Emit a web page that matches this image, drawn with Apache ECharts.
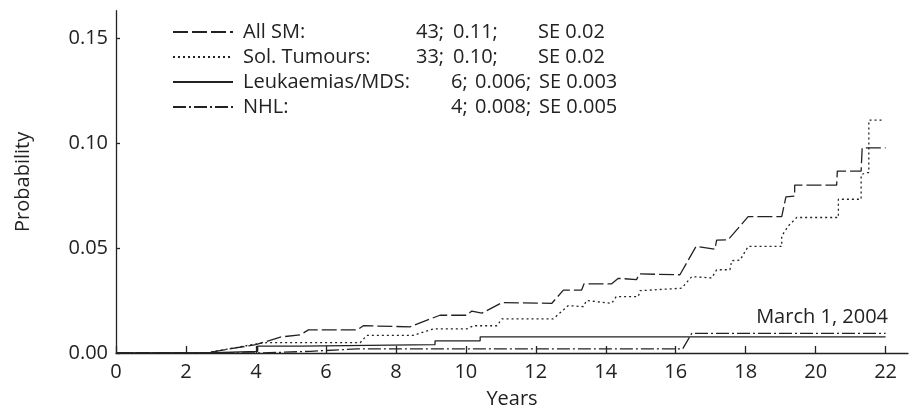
<!DOCTYPE html>
<html><head><meta charset="utf-8">
<script src="https://cdn.jsdelivr.net/npm/echarts@6/dist/echarts.min.js"></script>
<style>html,body{margin:0;padding:0;background:#fff}#c{width:911px;height:414px}</style>
</head><body><div id="c"></div>
<script>
// ---- data ----
const seriesNames = ['All SM:', 'Sol. Tumours:', 'Leukaemias/MDS:', 'NHL:'];
const eventCounts = ['43;', '33;', '6;', '4;'];
const cumProb = ['0.11;', '0.10;', '0.006;', '0.008;'];
const stdErr = ['SE 0.02', 'SE 0.02', 'SE 0.003', 'SE 0.005'];
const xTicks = [0, 2, 4, 6, 8, 10, 12, 14, 16, 18, 20, 22];
const yTicks = [0, 0.05, 0.10, 0.15];
const annotation = 'March 1, 2004';

const allSmYears = [0, 2.55, 4.0, 4.7, 5.27, 5.5, 6.9, 7.07, 8.4, 9.26, 10.03, 10.17, 10.46, 11.03, 12.46, 12.79, 13.31, 13.38, 14.17, 14.36, 14.88, 14.96, 16.12, 16.58, 17.12, 17.17, 17.5, 18.07, 19.03, 19.15, 19.4, 19.4, 20.6, 20.62, 21.3, 21.33, 22.0];
const allSmProb  = [0, 0, 0.004, 0.0076, 0.0087, 0.011, 0.011, 0.013, 0.0125, 0.018, 0.018, 0.020, 0.019, 0.024, 0.0237, 0.030, 0.030, 0.033, 0.033, 0.0356, 0.035, 0.0377, 0.0373, 0.0508, 0.0495, 0.0538, 0.054, 0.065, 0.065, 0.0744, 0.0748, 0.080, 0.080, 0.0867, 0.0867, 0.0978, 0.0978];

const solYears = [0, 2.56, 4.03, 4.3, 6.98, 7.17, 8.5, 9.07, 10.03, 10.22, 10.89, 11.03, 12.5, 12.93, 13.36, 13.45, 14.17, 14.3, 14.93, 14.98, 16.17, 16.46, 17.03, 17.17, 17.55, 17.6, 17.84, 18.07, 19.03, 19.03, 19.22, 19.46, 20.65, 20.65, 21.3, 21.3, 21.45, 21.52, 21.52, 21.9];
const solProb  = [0, 0, 0.0044, 0.0049, 0.0049, 0.0084, 0.0084, 0.0115, 0.0115, 0.013, 0.013, 0.0163, 0.0163, 0.0226, 0.0221, 0.025, 0.0237, 0.0269, 0.0269, 0.0297, 0.0309, 0.0364, 0.0358, 0.0397, 0.0397, 0.044, 0.0443, 0.0508, 0.0508, 0.0558, 0.0606, 0.0646, 0.0646, 0.0733, 0.0733, 0.085, 0.086, 0.086, 0.111, 0.111];

const leukYears = [0, 2.55, 2.55, 4.05, 4.05, 5.31, 5.31, 9.12, 9.12, 10.41, 10.41, 22.0];
const leukProb  = [0, 0, 0.0008, 0.0008, 0.0033, 0.0033, 0.004, 0.004, 0.0058, 0.0058, 0.0077, 0.0077];

const nhlYears = [0, 4.1, 5.56, 6.9, 16.2, 16.46, 22.0];
const nhlProb  = [0, 0, 0.0008, 0.002, 0.002, 0.0094, 0.0094];

// ---- layout / style ----
const FONT = '"Open Sans", "Noto Sans", sans-serif';
const INK = '#222';
const dashes = [[15, 4], [2, 3], 'solid', [13, 3, 2, 3]];
const nameW  = [173, 173, 208, 208];
const countW = [37, 37, 24, 24];
const probW  = [85, 85, 64, 64];

const zip = (xs, ys) => xs.map((x, i) => [x, ys[i]]);
const seriesData = [zip(allSmYears, allSmProb), zip(solYears, solProb), zip(leukYears, leukProb), zip(nhlYears, nhlProb)];

const rich = { sp: { width: 5 } };
seriesNames.forEach((n, i) => {
  rich['n' + i] = { width: nameW[i], fontSize: 20, fontFamily: FONT, color: INK };
  rich['c' + i] = { width: countW[i], fontSize: 20, fontFamily: FONT, color: INK };
  rich['p' + i] = { width: probW[i], fontSize: 20, fontFamily: FONT, color: INK };
  rich['s' + i] = { fontSize: 20, fontFamily: FONT, color: INK };
});

const chart = echarts.init(document.getElementById('c'));
chart.setOption({
  animation: false,
  backgroundColor: '#fff',
  grid: { left: 116, right: 3, top: 10.7, bottom: 59.7, containLabel: false },
  legend: {
    orient: 'vertical', left: 172, top: 19.5, padding: 0, itemGap: 0,
    itemWidth: 60, itemHeight: 14,
    data: seriesNames,
    itemStyle: { opacity: 0, borderWidth: 0 },
    lineStyle: { opacity: 1 },
    textStyle: { fontSize: 20, fontFamily: FONT, color: INK, lineHeight: 25, rich: rich },
    formatter: function (name) {
      const i = seriesNames.indexOf(name);
      return '{sp| }{n' + i + '|' + name + '}{c' + i + '|' + eventCounts[i] + '}{p' + i + '|' + cumProb[i] + '}{s' + i + '|' + stdErr[i] + '}';
    }
  },
  xAxis: {
    type: 'value', min: 0, max: 22.64,
    name: 'Years', nameLocation: 'middle', nameGap: 36,
    nameTextStyle: { fontSize: 20, fontFamily: FONT, color: INK },
    axisLine: { lineStyle: { color: INK, width: 1.3 } },
    axisTick: { inside: true, length: 7, lineStyle: { color: INK, width: 1.3 }, customValues: xTicks },
    axisLabel: { fontSize: 20, fontFamily: FONT, color: INK, margin: 9, customValues: xTicks },
    splitLine: { show: false }
  },
  yAxis: {
    type: 'value', min: 0, max: 0.1632,
    name: 'Probability', nameLocation: 'middle', nameGap: 83, nameRotate: 90,
    nameTextStyle: { fontSize: 20, fontFamily: FONT, color: INK },
    axisLine: { show: true, lineStyle: { color: INK, width: 1.3 } },
    axisTick: { show: true, inside: true, length: 4, lineStyle: { color: INK, width: 1.3 }, customValues: yTicks },
    axisLabel: { fontSize: 20, fontFamily: FONT, color: INK, margin: 8, customValues: yTicks,
      formatter: v => v.toFixed(2) },
    splitLine: { show: false }
  },
  graphic: [{
    type: 'text', right: 23, top: 307,
    style: { text: annotation, font: '20px ' + FONT, fill: INK }
  }],
  series: seriesNames.map((n, i) => ({
    name: n, type: 'line', symbol: 'none', showSymbol: false,
    data: seriesData[i],
    lineStyle: { color: INK, width: 1.3, type: dashes[i] },
    itemStyle: { color: INK },
    z: 2
  }))
});
</script></body></html>
